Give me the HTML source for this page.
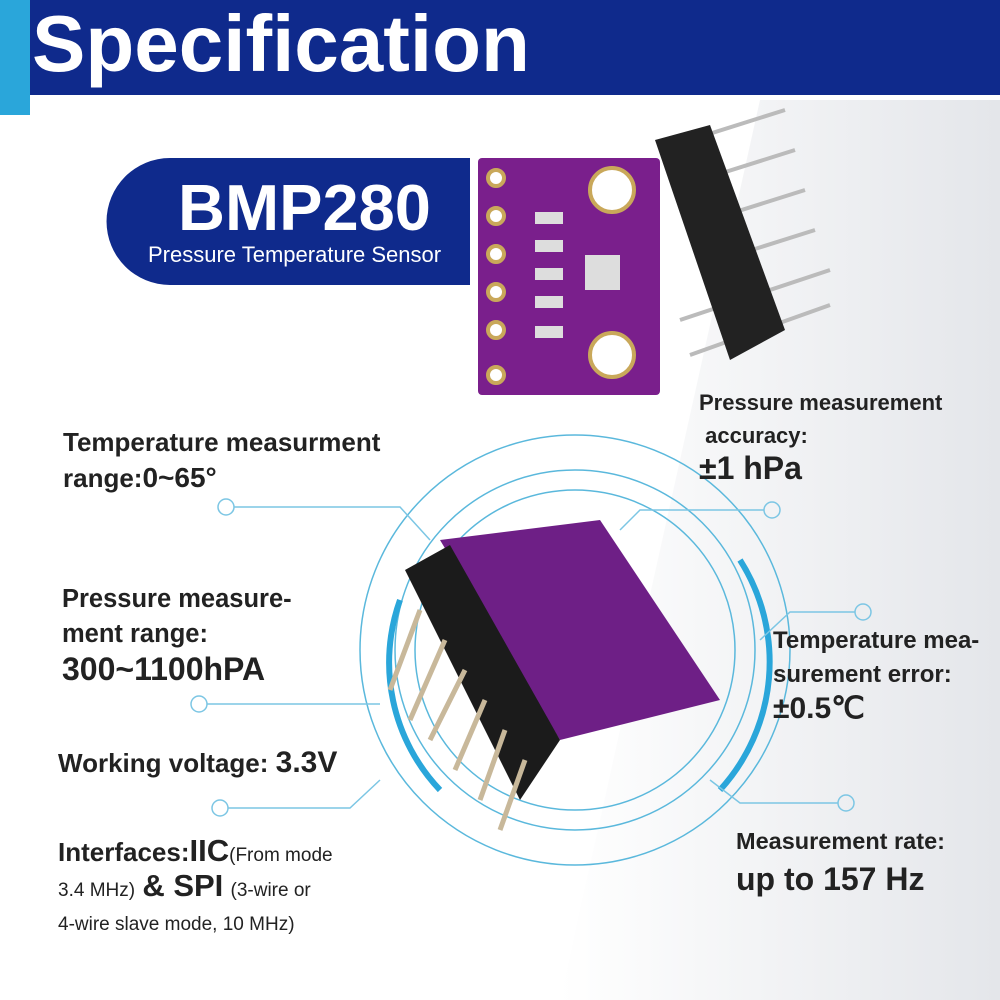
<!DOCTYPE html>
<html><head><meta charset="utf-8"><style>
body{margin:0;width:1000px;height:1000px;position:relative;overflow:hidden;background:#fff;font-family:"Liberation Sans",sans-serif;}
.t{position:absolute;color:#222;font-weight:bold;white-space:nowrap}
</style></head><body>
<svg width="1000" height="1000" style="position:absolute;left:0;top:0">
<defs><linearGradient id="g" x1="0" y1="0" x2="1" y2="0"><stop offset="0" stop-color="#fff"/><stop offset="1" stop-color="#e4e6ea"/></linearGradient></defs>
<polygon points="760,100 1000,100 1000,1000 560,1000" fill="url(#g)"/>
<rect x="30" y="0" width="970" height="95" fill="#0f2a8c"/>
<rect x="0" y="0" width="30" height="115" fill="#2aa6da"/>
<path d="M170,158 H470 V285 H170 A63,63 0 0 1 170,158 Z" fill="#0f2a8c"/>
<rect x="478" y="158" width="182" height="237" rx="4" fill="#7a1f8c"/>
<g fill="#fff" stroke="#c9a85a" stroke-width="4">
<circle cx="496" cy="178" r="8"/><circle cx="496" cy="216" r="8"/><circle cx="496" cy="254" r="8"/><circle cx="496" cy="292" r="8"/><circle cx="496" cy="330" r="8"/><circle cx="496" cy="375" r="8"/>
<circle cx="612" cy="190" r="22"/><circle cx="612" cy="355" r="22"/></g>
<rect x="585" y="255" width="35" height="35" fill="#ddd"/>
<g fill="#ddd"><rect x="535" y="212" width="28" height="12"/><rect x="535" y="240" width="28" height="12"/><rect x="535" y="268" width="28" height="12"/><rect x="535" y="296" width="28" height="12"/><rect x="535" y="326" width="28" height="12"/></g>
<g stroke="#bbb" stroke-width="4"><line x1="690" y1="140" x2="785" y2="110"/><line x1="700" y1="180" x2="795" y2="150"/><line x1="710" y1="220" x2="805" y2="190"/><line x1="720" y1="260" x2="815" y2="230"/><line x1="680" y1="320" x2="830" y2="270"/><line x1="690" y1="355" x2="830" y2="305"/></g>
<polygon points="655,140 710,125 785,330 730,360" fill="#222"/>
<g fill="none" stroke="#5ab8dc" stroke-width="1.5">
<circle cx="575" cy="650" r="215"/><circle cx="575" cy="650" r="180"/><circle cx="575" cy="650" r="160"/></g>
<g fill="none" stroke="#2aa6da" stroke-width="6"><path d="M740,560 A190,190 0 0 1 720,790"/><path d="M400,600 A185,185 0 0 0 440,790"/></g>
<g fill="none" stroke="#7cc6e4" stroke-width="1.5">
<circle cx="226" cy="507" r="8"/><circle cx="772" cy="510" r="8"/><circle cx="863" cy="612" r="8"/><circle cx="199" cy="704" r="8"/><circle cx="220" cy="808" r="8"/><circle cx="846" cy="803" r="8"/>
<path d="M234,507 H400 L430,540"/><path d="M764,510 H640 L620,530"/><path d="M855,612 H790 L760,640"/><path d="M207,704 H380"/><path d="M228,808 H350 L380,780"/><path d="M838,803 H740 L710,780"/></g>
<polygon points="440,540 600,520 720,700 560,740" fill="#6e1f86"/>
<polygon points="405,570 450,545 560,740 520,800" fill="#1b1b1b"/>
<g stroke="#c8b89a" stroke-width="5"><line x1="420" y1="610" x2="390" y2="690"/><line x1="445" y1="640" x2="410" y2="720"/><line x1="465" y1="670" x2="430" y2="740"/><line x1="485" y1="700" x2="455" y2="770"/><line x1="505" y1="730" x2="480" y2="800"/><line x1="525" y1="760" x2="500" y2="830"/></g>
</svg>
<div class="t" style="left:32px;top:-2px;font-size:80px;color:#fff;">Specification</div>
<div class="t" style="left:178px;top:170px;font-size:65px;color:#fff;">BMP280</div>
<div class="t" style="left:148px;top:242px;font-size:22px;color:#fff;font-weight:normal">Pressure Temperature Sensor</div>
<div class="t" style="left:63px;top:424px;font-size:26px;line-height:36px">Temperature measurment<br>range:<span style="font-size:28px">0~65°</span></div>
<div class="t" style="left:62px;top:582px;font-size:25.5px;line-height:35px">Pressure measure-<br>ment range:<br><span style="font-size:32px">300~1100hPA</span></div>
<div class="t" style="left:58px;top:746px;font-size:26px">Working voltage: <span style="font-size:30px">3.3V</span></div>
<div class="t" style="left:58px;top:836px;font-size:26px;line-height:30px">Interfaces:<span style="font-size:31px">IIC</span><span style="font-size:19px;font-weight:normal">(From mode<br>3.4 MHz)</span> <span style="font-size:31px">&amp; SPI</span> <span style="font-size:19px;font-weight:normal">(3-wire or<br>4-wire slave mode, 10 MHz)</span></div>
<div class="t" style="left:699px;top:386px;font-size:22px;line-height:33px">Pressure measurement<br>&nbsp;accuracy:<br><span style="font-size:32px">±1 hPa</span></div>
<div class="t" style="left:773px;top:624px;font-size:24px;line-height:34px">Temperature mea-<br>surement error:<br><span style="font-size:30px">±0.5℃</span></div>
<div class="t" style="left:736px;top:822px;font-size:23.5px;line-height:38px">Measurement rate:<br><span style="font-size:32px">up to 157 Hz</span></div>
</body></html>
